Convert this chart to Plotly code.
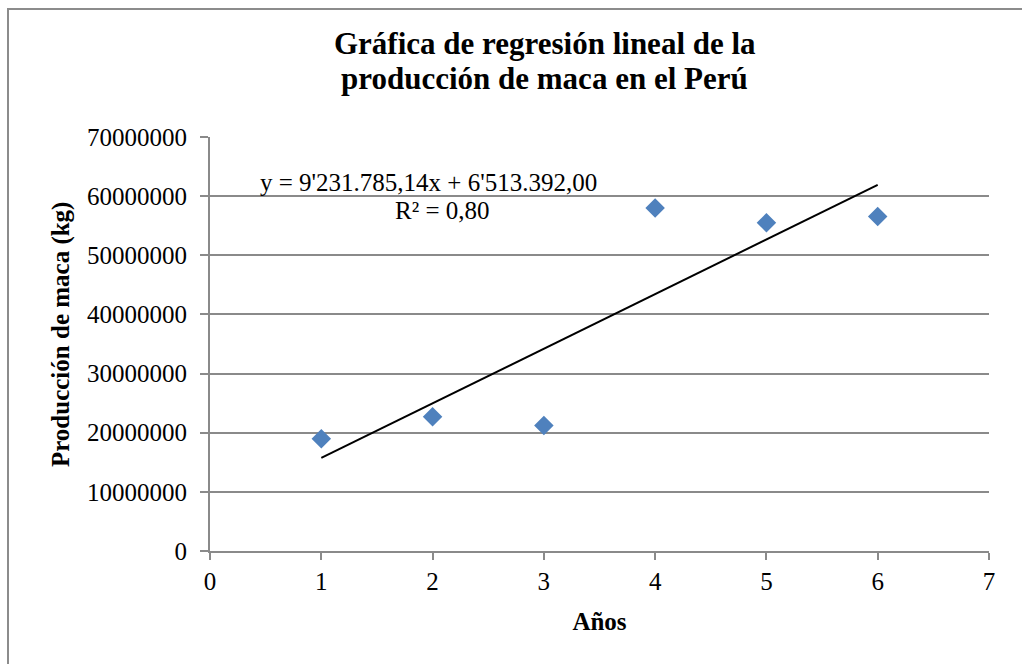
import plotly.graph_objects as go

# Data
anios = [1, 2, 3, 4, 5, 6]
produccion = [19000000, 22700000, 21200000, 58000000, 55500000, 56550000]
pendiente = 9231785.14
intercepto = 6513392.00
r2 = 0.80

x_ticks = [0, 1, 2, 3, 4, 5, 6, 7]
y_ticks = [0, 10000000, 20000000, 30000000, 40000000, 50000000, 60000000, 70000000]

titulo_l1 = "Gráfica de regresión lineal de la"
titulo_l2 = "producción de maca en el Perú"
eq_text = "y = 9'231.785,14x + 6'513.392,00"
r2_text = "R² = 0,80"
x_title = "Años"
y_title = "Producción de maca (kg)"

FONT = "Liberation Serif"
GRID = "#8a8a8a"

trend_x = [min(anios), max(anios)]
trend_y = [pendiente * v + intercepto for v in trend_x]

fig = go.Figure()
fig.add_trace(go.Scatter(
    x=anios, y=produccion, mode="markers",
    marker=dict(symbol="diamond", size=15, color="#4F81BD", line=dict(width=0)),
    showlegend=False, hoverinfo="x+y"))
fig.add_trace(go.Scatter(
    x=trend_x, y=trend_y, mode="lines",
    line=dict(color="black", width=2), showlegend=False, hoverinfo="skip"))

fig.update_layout(
    width=1022, height=664,
    margin=dict(l=210, r=33, t=137, b=113),
    paper_bgcolor="white", plot_bgcolor="white",
    font=dict(family=FONT, color="black", size=25),
    showlegend=False,
)
fig.update_xaxes(
    range=[0, 7], tickvals=x_ticks, ticktext=[str(v) for v in x_ticks],
    showgrid=False, zeroline=False, showline=True, linecolor=GRID, linewidth=2,
    ticks="outside", ticklen=7, tickwidth=1.5, tickcolor=GRID,
    tickfont=dict(family=FONT, size=25, color="black"),
    title=dict(text=f"<b>{x_title}</b>", font=dict(family=FONT, size=25, color="black"), standoff=18),
)
fig.update_yaxes(
    range=[0, 70000000], tickvals=y_ticks, ticktext=[str(v) for v in y_ticks],
    showgrid=True, gridcolor=GRID, gridwidth=2, zeroline=False,
    showline=True, linecolor=GRID, linewidth=2,
    ticks="outside", ticklen=8, tickwidth=1.5, tickcolor=GRID,
    tickfont=dict(family=FONT, size=25, color="black"),
    ticklabelstandoff=8,
)

# Y axis title
fig.add_annotation(text=f"<b>{y_title}</b>", xref="paper", yref="paper", x=-0.1913, y=0.524,
                   xanchor="center", yanchor="middle", textangle=-90, showarrow=False,
                   font=dict(family=FONT, size=25, color="black"))

# Title lines
fig.add_annotation(text=f"<b>{titulo_l1}</b>", xref="paper", yref="paper", x=0.430, y=1.227,
                   xanchor="center", yanchor="middle", showarrow=False,
                   font=dict(family=FONT, size=31, color="black"))
fig.add_annotation(text=f"<b>{titulo_l2}</b>", xref="paper", yref="paper", x=0.430, y=1.1425,
                   xanchor="center", yanchor="middle", showarrow=False,
                   font=dict(family=FONT, size=31, color="black"))
# Equation labels
fig.add_annotation(text=eq_text, xref="paper", yref="paper", x=0.281, y=0.889,
                   xanchor="center", yanchor="middle", showarrow=False,
                   font=dict(family=FONT, size=25, color="black"))
fig.add_annotation(text=r2_text, xref="paper", yref="paper", x=0.298, y=0.822,
                   xanchor="center", yanchor="middle", showarrow=False,
                   font=dict(family=FONT, size=25, color="black"))

# Outer chart border (left and top edges visible)
fig.add_shape(type="rect", xref="paper", yref="paper",
              x0=(8 - 210) / 779, x1=1.06, y0=-0.35, y1=1 + (137 - 9) / 414,
              line=dict(color="#8c8c8c", width=2), fillcolor="rgba(0,0,0,0)", layer="below")

fig.write_html("out.html")
